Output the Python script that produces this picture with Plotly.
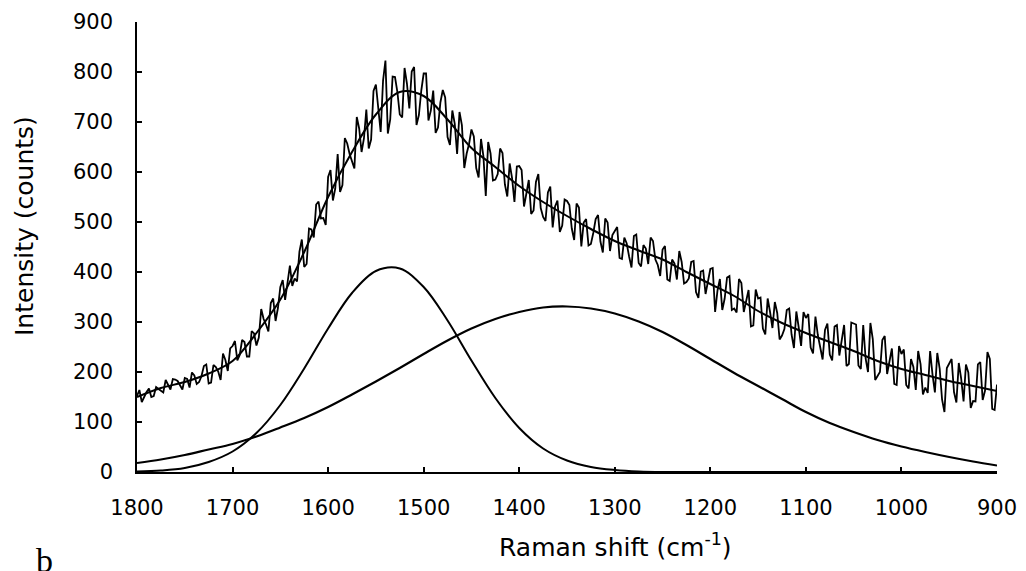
import plotly.graph_objects as go

# ---- data ----
shift_fit = [1800, 1775, 1750, 1725, 1700, 1675, 1650, 1625, 1600, 1575, 1550, 1525,
             1500, 1475, 1450, 1425, 1400, 1375, 1350, 1325, 1300, 1275, 1250, 1225,
             1200, 1175, 1150, 1125, 1100, 1075, 1050, 1025, 1000, 975, 950, 925, 900]

fit_total = [150, 168, 180, 197, 222, 278, 345, 440, 550, 640, 715, 760,
             752, 705, 648, 610, 572, 540, 512, 486, 462, 443, 425, 400,
             376, 352, 322, 298, 278, 260, 242, 222, 206, 194, 182, 172, 162]

peak_g = [1, 3, 8, 20, 41, 78, 134, 207, 287, 358, 402, 407,
          370, 303, 223, 148, 88, 47, 23, 10, 4, 1, 0, 0,
          0, 0, 0, 0, 0, 0, 0, 0, 0, 0, 0, 0, 0]

peak_d = [18, 25, 34, 45, 56, 71, 89, 108, 130, 155, 181, 208,
          236, 263, 287, 306, 320, 329, 331, 327, 317, 301, 280, 254,
          226, 198, 172, 146, 120, 98, 80, 64, 51, 40, 30, 21, 13]

# measured spectrum: points on the 5 cm-1 grid (1800 ... 900)
shift_a = list(range(1800, 899, -5))
counts_a = [
    152, 140, 160, 150, 170,
    162, 184, 165, 185, 174,
    188, 169, 193, 180, 212,
    177, 214, 201, 237, 202,
    252, 223, 264, 231, 282,
    253, 326, 295, 338, 302,
    370, 344, 413, 387, 441,
    410, 487, 469, 541, 508,
    590, 543, 636, 574, 657,
    620, 710, 640, 725, 665,
    775, 680, 823, 705, 790,
    715, 808, 727, 810, 714,
    797, 703, 763, 689, 764,
    670, 723, 636, 694, 637,
    685, 608, 666, 552, 637,
    585, 647, 575, 617, 540,
    612, 531, 584, 523, 596,
    510, 559, 489, 543, 493,
    542, 487, 537, 451, 506,
    456, 506, 461, 507, 442,
    482, 428, 469, 431, 472,
    418, 454, 416, 462, 414,
    445, 385, 425, 385, 420,
    380, 420, 360, 401, 356,
    406, 320, 386, 347, 392,
    327, 386, 320, 364, 293,
    347, 287, 347, 288, 318,
    273, 324, 275, 321, 252,
    308, 249, 311, 247, 284,
    235, 291, 233, 294, 216,
    297, 213, 294, 200, 266,
    192, 264, 196, 247, 174,
    236, 174, 226, 164, 216,
    169, 242, 159, 207, 120,
    217, 160, 218, 141, 199,
    142, 215, 144, 240, 126,
    175,
]

# measured spectrum: points half-way between (1797.5 ... 902.5)
shift_b = [1797.5 - 5 * i for i in range(180)]
counts_b = [
    164, 151, 167, 152, 166,
    159, 174, 186, 182, 165,
    186, 199, 176, 192, 215,
    179, 210, 184, 224, 247,
    262, 234, 260, 231, 277,
    269, 306, 281, 347, 328,
    384, 378, 372, 381, 465,
    416, 485, 535, 507, 494,
    604, 567, 560, 668, 636,
    607, 687, 667, 647, 762,
    729, 783, 677, 791, 760,
    709, 777, 801, 694, 763,
    797, 723, 678, 739, 749,
    654, 697, 720, 608, 656,
    671, 589, 632, 660, 583,
    596, 638, 551, 588, 611,
    604, 557, 516, 580, 528,
    502, 571, 531, 480, 545,
    534, 464, 529, 499, 453,
    478, 514, 439, 499, 474,
    490, 426, 457, 409, 475,
    411, 447, 469, 425, 392,
    452, 382, 417, 442, 377,
    387, 422, 348, 403, 383,
    408, 363, 324, 389, 324,
    319, 378, 342, 291, 365,
    349, 275, 320, 340, 265,
    286, 327, 248, 289, 320,
    316, 237, 274, 225, 297,
    223, 294, 261, 212, 299,
    295, 206, 227, 298, 184,
    200, 272, 219, 176, 252,
    245, 167, 210, 242, 155,
    158, 195, 238, 145, 208,
    226, 139, 187, 215, 128,
    141, 220, 163, 226, 124,
]

x_ticks = [1800, 1700, 1600, 1500, 1400, 1300, 1200, 1100, 1000, 900]
y_ticks = [0, 100, 200, 300, 400, 500, 600, 700, 800, 900]

spectrum = sorted(zip(shift_a + shift_b, counts_a + counts_b), key=lambda p: -p[0])
spec_x = [p[0] for p in spectrum]
spec_y = [p[1] for p in spectrum]

# ---- figure (page body adds an 8px offset) ----
OFF = 8
W, H = 1026 - OFF, 571 - OFF
PL, PT, PW, PH = 137, 22, 860, 450      # plot area in screen pixels
L, T = PL - OFF, PT - OFF
R = W - L - PW
B = H - T - PH

def px(sx):
    return (sx - PL) / PW

def py(sy):
    return (PT + PH - sy) / PH

fig = go.Figure()
fig.add_trace(go.Scatter(x=spec_x, y=spec_y, mode="lines",
                         line=dict(color="black", width=1.8), hoverinfo="skip"))
fig.add_trace(go.Scatter(x=shift_fit, y=fit_total, mode="lines",
                         line=dict(color="black", width=2, shape="spline"), hoverinfo="skip"))
fig.add_trace(go.Scatter(x=shift_fit, y=peak_g, mode="lines",
                         line=dict(color="black", width=2, shape="spline", smoothing=1.0), hoverinfo="skip"))
fig.add_trace(go.Scatter(x=shift_fit, y=peak_d, mode="lines",
                         line=dict(color="black", width=2.2, shape="spline", smoothing=1.0), hoverinfo="skip"))

tickfont = dict(family="DejaVu Sans", size=21, color="black")
fig.update_xaxes(range=[1800, 900], tickvals=x_ticks, ticktext=[str(v) for v in x_ticks],
                 showgrid=False, zeroline=False, showline=True, linecolor="black", linewidth=2,
                 ticks="inside", ticklen=5, tickwidth=1.5, tickcolor="black",
                 tickfont=tickfont, ticklabelstandoff=16, automargin=False)
fig.update_yaxes(range=[0, 900], tickvals=y_ticks, ticktext=[str(v) for v in y_ticks],
                 showgrid=False, zeroline=False, showline=True, linecolor="black", linewidth=1.5,
                 ticks="inside", ticklen=5, tickwidth=1.5, tickcolor="black",
                 tickfont=tickfont, ticklabelstandoff=18, automargin=False)

titlefont = dict(family="DejaVu Sans", size=25, color="black")
fig.update_layout(
    width=W, height=H,
    margin=dict(l=L, r=R, t=T, b=B, autoexpand=False),
    paper_bgcolor="white", plot_bgcolor="white",
    showlegend=False,
    annotations=[
        dict(text="Raman shift (cm<sup>-1</sup>)", xref="paper", yref="paper",
             x=px(615), y=py(545), xanchor="center", yanchor="middle",
             showarrow=False, font=titlefont),
        dict(text="Intensity (counts)", xref="paper", yref="paper",
             x=px(24), y=py(226), xanchor="center", yanchor="middle", textangle=-90,
             showarrow=False, font=titlefont),
        dict(text="b", xref="paper", yref="paper",
             x=px(44), y=py(540), xanchor="center", yanchor="top",
             showarrow=False, font=dict(family="Liberation Serif", size=34, color="black")),
    ],
)

fig.write_html("out.html")
